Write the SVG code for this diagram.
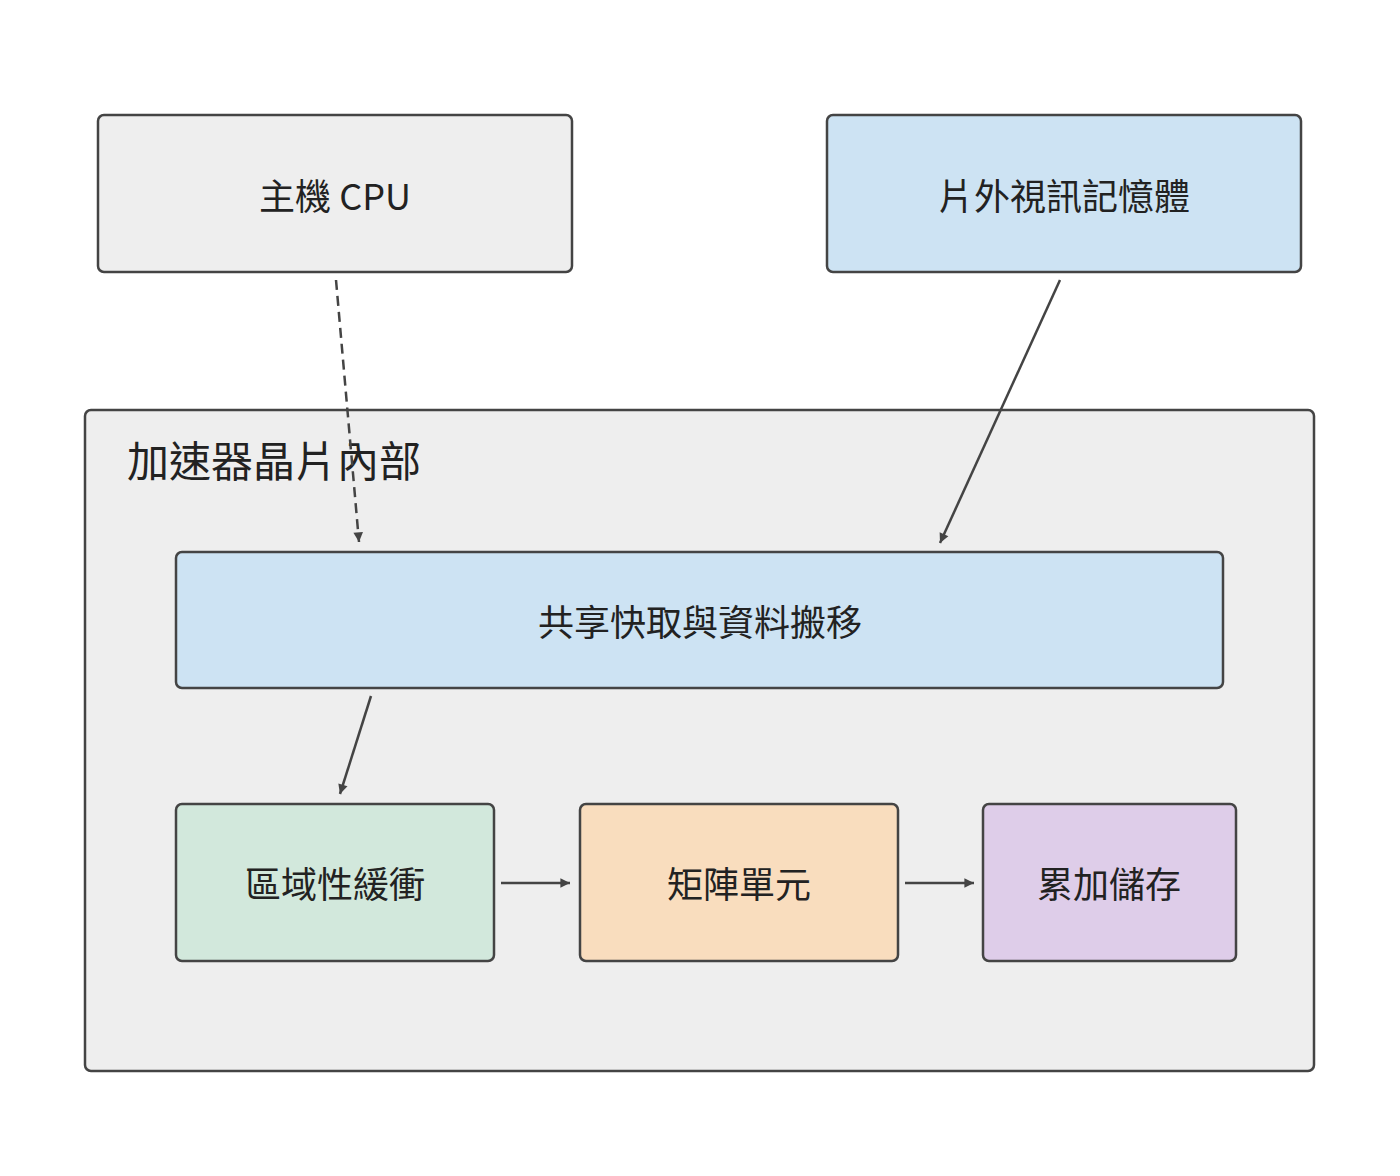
<svg xmlns="http://www.w3.org/2000/svg" width="1400" height="1176" viewBox="0 0 1400 1176">
<style>
.box{stroke:#444;stroke-width:2.5}
.t{font-family:"Noto Sans CJK TC","Noto Sans",sans-serif;fill:#222;text-anchor:middle;dominant-baseline:central}
.c{stroke:#444;stroke-width:2.5;fill:none;marker-end:url(#ah)}
</style>
<defs>
<marker id="ah" viewBox="0 0 10 10" refX="10" refY="5" markerWidth="6" markerHeight="6" orient="auto" markerUnits="userSpaceOnUse" style="overflow:visible">
<path d="M0,0 L10,5 L0,10 z" fill="#444" transform="scale(1.6) translate(-3.75,-1.9)"/>
</marker>
</defs>
<rect width="1400" height="1176" fill="#fff"/>
<g id="chip">
<rect class="box" x="85" y="410" width="1229" height="661" rx="6" fill="#eeeeee"/>
<text x="127" y="458" font-family="Noto Sans CJK TC,sans-serif" font-size="42" fill="#222" dominant-baseline="central">加速器晶片內部</text>
</g>
<g id="cpu"><rect class="box" x="98" y="115" width="474" height="157" rx="6" fill="#eeeeee"/><text class="t" x="335" y="194" font-size="36">主機 CPU</text></g>
<g id="mem"><rect class="box" x="827" y="115" width="474" height="157" rx="6" fill="#cde3f3"/><text class="t" x="1064" y="194" font-size="36">片外視訊記憶體</text></g>
<g id="shared"><rect class="box" x="176" y="552" width="1047" height="136" rx="6" fill="#cde3f3"/><text class="t" x="700" y="620" font-size="36">共享快取與資料搬移</text></g>
<g id="local"><rect class="box" x="176" y="804" width="318" height="157" rx="6" fill="#d2e8dc"/><text class="t" x="335" y="882" font-size="36">區域性緩衝</text></g>
<g id="matrix"><rect class="box" x="580" y="804" width="318" height="157" rx="6" fill="#f9ddbe"/><text class="t" x="739" y="882" font-size="36">矩陣單元</text></g>
<g id="accum"><rect class="box" x="983" y="804" width="253" height="157" rx="6" fill="#decde9"/><text class="t" x="1109" y="882" font-size="36">累加儲存</text></g>
<g id="connectors">
<path d="M1000,0" />
<line class="c" x1="336" y1="280" x2="359" y2="542" stroke-dasharray="10,6"/>
<line class="c" x1="1060" y1="280" x2="940" y2="543"/>
<line class="c" x1="371" y1="696" x2="340" y2="794"/>
<line class="c" x1="501" y1="883" x2="570" y2="883"/>
<line class="c" x1="905" y1="883" x2="974" y2="883"/>
</g>
</svg>
